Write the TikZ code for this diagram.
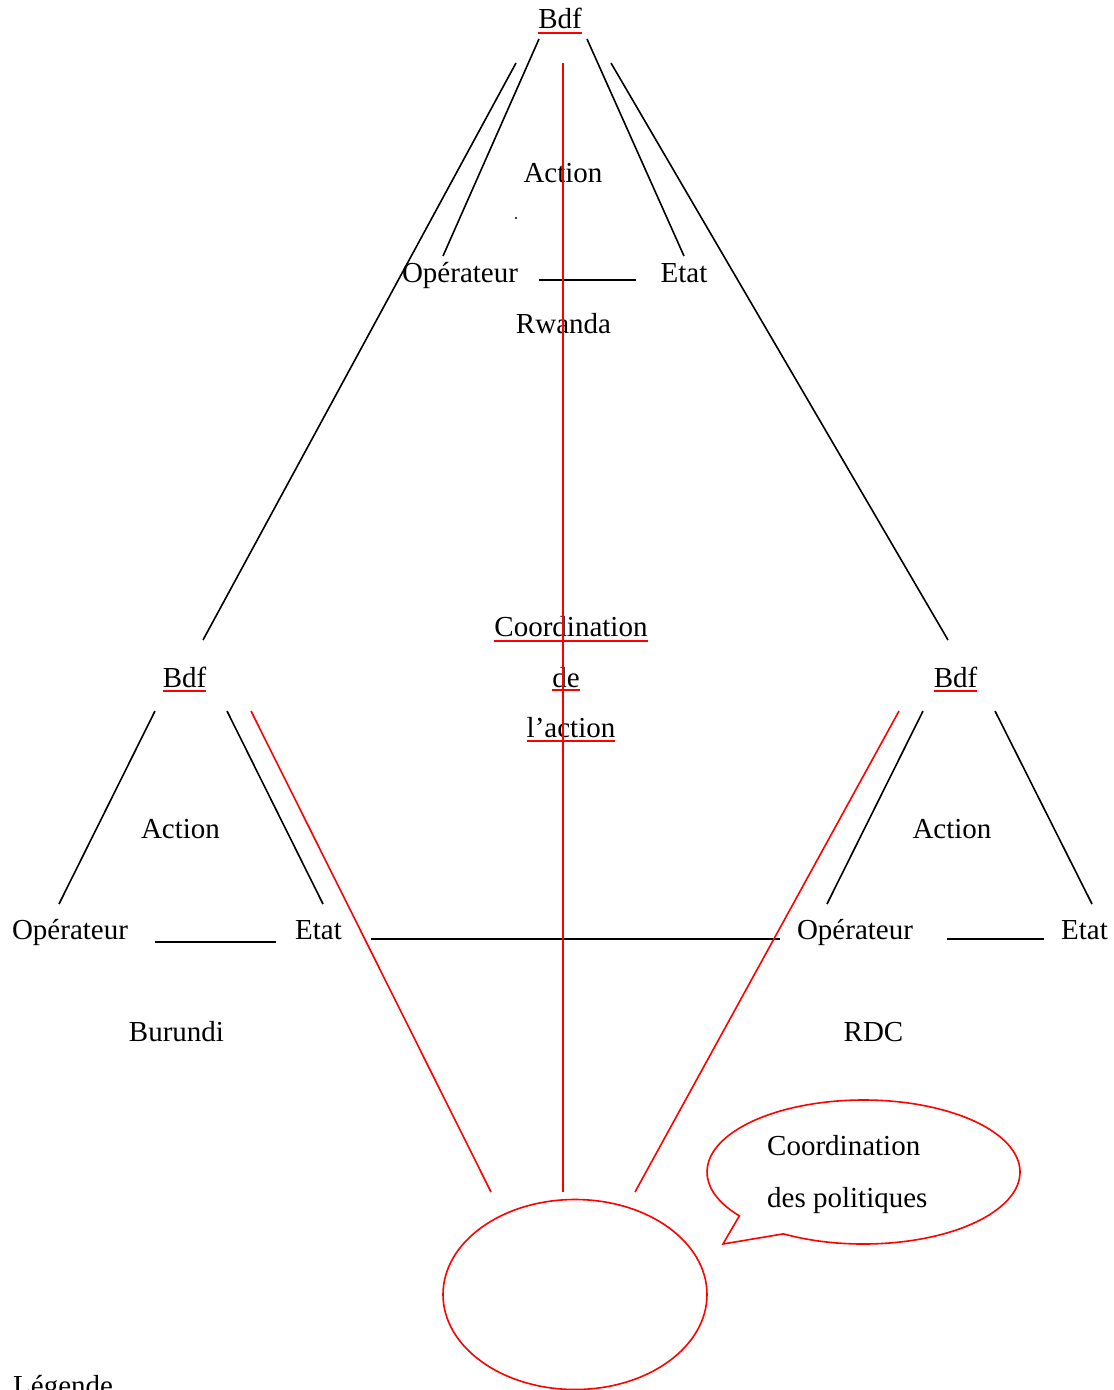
\documentclass[tikz,border=0pt]{standalone}
\usepackage{fontspec}
\setmainfont{Liberation Serif}
\usetikzlibrary{shapes.geometric,calc}
\begin{document}
\begin{tikzpicture}[x=1pt,y=1pt,
  lbl/.style={font=\fontsize{29}{35}\selectfont, inner sep=0pt, anchor=base},
  lblw/.style={lbl, anchor=base west},
  blk/.style={draw=black, line width=1.6pt},
  rd/.style={draw=red, line width=1.6pt},
  ul/.style={draw=red, line width=2pt}]
\useasboundingbox (0,0) rectangle (1114,-1390);
% ---- top triangle (Rwanda)
\node[lbl] (bdfT) at (560,-28) {Bdf};
\node[lbl] (actT) at (563,-182) {Action};
\node[lbl] (opT) at (460,-282) {Opérateur};
\node[lbl] (etT) at (684,-282) {Etat};
\node[lbl] (rwa) at (563.5,-333) {Rwanda};
\fill (516,-218) circle (1.1);
% ---- middle
\node[lbl] (coo) at (571,-636) {Coordination};
\node[lbl] (de) at (566,-687) {de};
\node[lbl] (lac) at (571,-737) {l’action};
% ---- left triangle (Burundi)
\node[lbl] (bdfL) at (184.5,-687) {Bdf};
\node[lbl] (actL) at (180.5,-838) {Action};
\node[lbl] (opL) at (70,-939) {Opérateur};
\node[lbl] (etL) at (318.5,-939) {Etat};
\node[lbl] (bur) at (176.5,-1041) {Burundi};
% ---- right triangle (RDC)
\node[lbl] (bdfR) at (955.5,-687) {Bdf};
\node[lbl] (actR) at (952,-838) {Action};
\node[lbl] (opR) at (855,-939) {Opérateur};
\node[lbl] (etR) at (1084.5,-939) {Etat};
\node[lbl] (rdc) at (873.5,-1041) {RDC};
% ---- bottom
\node[draw=red, line width=1.6pt, ellipse, minimum width=264pt, minimum height=190pt, inner sep=0pt] (pol) at (575,-1294.5) {};
\node[lblw] (cdp1) at (767,-1155) {Coordination};
\node[lblw] (cdp2) at (767,-1207) {des politiques};
\node[lblw] (leg) at (13,-1395) {Légende};

% ---- underlines
\foreach \n/\d in {bdfT/5, bdfL/4, bdfR/4, coo/5, de/3, lac/4}{
  \draw[ul] ($(\n.base west)+(0,-\d)$) -- ($(\n.base east)+(0,-\d)$);
}

% ---- coordinates for connector ends
\coordinate (t1a) at (539,-39);  \coordinate (t1b) at (443,-256);
\coordinate (t2a) at (587,-39);  \coordinate (t2b) at (684,-256);
\coordinate (t3a) at (516,-63);  \coordinate (t3b) at (203,-640);
\coordinate (t4a) at (611,-63);  \coordinate (t4b) at (948,-640);
\coordinate (t5a) at (539,-280); \coordinate (t5b) at (636,-280);
\coordinate (l1a) at (155,-711); \coordinate (l1b) at (59,-904);
\coordinate (l2a) at (227,-711); \coordinate (l2b) at (323,-904);
\coordinate (l3a) at (155,-942); \coordinate (l3b) at (276,-942);
\coordinate (r1a) at (923,-711); \coordinate (r1b) at (827,-904);
\coordinate (r2a) at (995,-711); \coordinate (r2b) at (1092,-904);
\coordinate (r3a) at (947,-939); \coordinate (r3b) at (1044,-939);
\coordinate (mha) at (371,-939); \coordinate (mhb) at (780,-939);
\coordinate (v1a) at (563,-63);  \coordinate (v1b) at (563,-1192);
\coordinate (v2a) at (251,-711); \coordinate (v2b) at (491,-1192);
\coordinate (v3a) at (899,-711); \coordinate (v3b) at (635,-1192);

% ---- black connectors
\foreach \a/\b in {t1a/t1b, t2a/t2b, t3a/t3b, t4a/t4b, t5a/t5b,
                   l1a/l1b, l2a/l2b, l3a/l3b, r1a/r1b, r2a/r2b, r3a/r3b, mha/mhb}{
  \draw[blk] (\a) -- (\b);
}
% ---- red connectors
\foreach \a/\b in {v1a/v1b, v2a/v2b, v3a/v3b}{
  \draw[rd] (\a) -- (\b);
}

% ---- speech bubble
\coordinate (bc) at (863.5,-1172);
\coordinate (tip) at (723,-1244);
\draw[rd, line join=miter] ($(bc)+(239.2:156.5 and 72)$)
   arc[start angle=239.2, end angle=577.5, x radius=156.5, y radius=72]
   -- (tip) -- cycle;
\end{tikzpicture}
\end{document}
